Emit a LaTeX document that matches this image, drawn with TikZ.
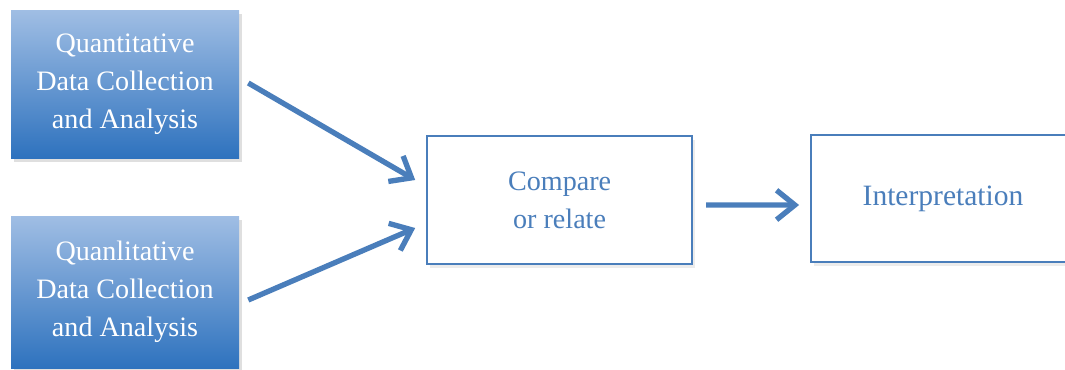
\documentclass[tikz,border=0pt]{standalone}
\usepackage{fontspec}
\setmainfont{Liberation Serif}
\usetikzlibrary{arrows.meta,calc,shadows}
\definecolor{boxblue}{RGB}{74,126,187}
\definecolor{fadetop}{RGB}{160,190,228}
\definecolor{fadebot}{RGB}{46,114,190}
\tikzset{
  databox/.style={rectangle, minimum width=5.7cm, minimum height=3.7cm,
    top color=fadetop, bottom color=fadebot, text=white, align=center,
    font=\fontsize{20}{27}\selectfont,
    drop shadow={shadow xshift=2pt, shadow yshift=-3pt, opacity=0.25}},
  stagebox/.style={rectangle, draw=boxblue, line width=1.3pt, fill=white,
    text=boxblue, align=center, font=\fontsize{20}{27}\selectfont,
    drop shadow={shadow xshift=2pt, shadow yshift=-3pt, opacity=0.15}},
  flow/.style={draw=boxblue, line width=3.8pt,
    -{Straight Barb[length=13pt, width=21pt]}},
}
\begin{document}
\begin{tikzpicture}
			\useasboundingbox (0, 0) rectangle (26.625, 9.225);
			%%%%% BOXES %%%%%
			\node[databox] (qnt) at (3.125, 7.125) {Quantitative\\Data Collection\\and Analysis};
			\node[databox, minimum height=3.8cm] (qln) at (3.125, 1.925) {Quanlitative\\Data Collection\\and Analysis};
			
			\node[stagebox, minimum width=6.625cm, minimum height=3.2cm] (cmp) at (13.99, 4.225) {Compare\\or relate};
			\node[stagebox, minimum width=6.6cm, minimum height=3.175cm, font=\fontsize{21}{27}\selectfont] (itp) at (23.575, 4.2625) {Interpretation};
			
			%%%%% ARROWS %%%%%
			\draw[flow] ($(qnt.east)+(0.225, 0.025)$) -- ($(cmp.west)+(-0.275, 0.5)$);
			\draw[flow] ($(qln.east)+(0.225, -0.2)$) -- ($(cmp.west)+(-0.275, -0.7)$);
			\draw[flow] ($(cmp.east)+(0.325, -0.125)$) -- ($(itp.west)+(-0.275, -0.1625)$);
		\end{tikzpicture}
\end{document}
